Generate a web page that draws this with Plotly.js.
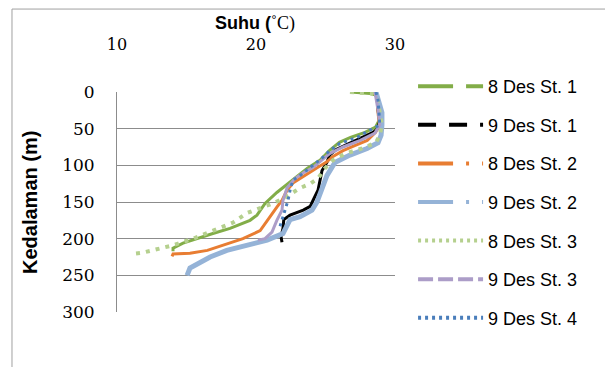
<!DOCTYPE html>
<html>
<head>
<meta charset="utf-8">
<script src="https://cdn.plot.ly/plotly-3.0.1.min.js"></script>
<style>html,body{margin:0;padding:0;background:#fff;}#chart{width:605px;height:367px;}</style>
</head>
<body>
<div id="chart"></div>
<script>
// Series names
const seriesNames = ["8 Des St. 1", "9 Des St. 1", "8 Des St. 2", "9 Des St. 2", "8 Des St. 3", "9 Des St. 3", "9 Des St. 4"];

// 8 Des St. 1
const temp8St1 = [26.8, 28.2, 28.7, 28.78, 28.85, 28.6, 27.84, 26.8, 26.0, 25.3, 24.6, 23.7, 22.45, 21.5, 20.65, 20.07, 19.57, 18.13, 16.9, 15.76, 14.75, 14.03, 14.03];
const depth8St1 = [0, 2, 4.5, 25, 38.6, 48, 55, 62, 68.6, 79.5, 93, 104, 123, 137, 152, 168, 175, 186, 193, 200, 206, 213, 217];

// 9 Des St. 1
const temp9St1 = [28.7, 28.78, 28.9, 28.78, 28.42, 27.5, 26.76, 25.8, 25.3, 25.1, 24.75, 24.6, 24.46, 24.1, 23.9, 23.4, 22.45, 22.0, 21.94, 21.8, 21.87];
const depth9St1 = [2, 25, 38.6, 49.5, 55, 63, 70, 78, 86, 96, 107, 120, 134, 148, 156, 161, 168, 174, 186, 197, 205];

// 8 Des St. 2
const temp8St2 = [28.35, 28.7, 28.8, 28.9, 28.6, 28.0, 27.1, 26.26, 25.54, 25.04, 24.6, 24.1, 23.67, 22.66, 22.23, 21.87, 21.5, 21.0, 20.3, 19.06, 17.6, 16.5, 15.25, 14.03, 13.96];
const depth8St2 = [0, 4.5, 32, 45, 55, 66, 73, 80, 88, 96, 101, 107, 111, 124, 134, 148, 157, 171, 189, 200, 209, 216, 220, 221, 224];

// 9 Des St. 2
const temp9St2 = [28.63, 28.78, 29.06, 29.06, 29.0, 28.78, 27.99, 26.76, 25.68, 25.1, 24.68, 24.39, 24.03, 23.17, 22.45, 22.16, 21.94, 20.8, 19.35, 17.9, 16.7, 15.76, 15.25, 15.04];
const depth9St2 = [0, 11, 28, 45, 59, 69, 77, 86, 96, 114, 134, 150, 161, 170, 174, 183, 193, 202, 209, 216, 225, 234, 240, 250];

// 8 Des St. 3
const temp8St3 = [26.76, 28.35, 28.7, 28.9, 29.06, 28.9, 28.63, 27.63, 26.4, 25.54, 24.96, 24.46, 23.9, 23.17, 22.09, 21.2, 20.29, 19.35, 18.35, 16.9, 15.47, 14.03, 13.1, 11.87, 10.94];
const depth8St3 = [0, 2, 7, 25, 45, 59, 69, 77, 84, 93, 104, 118, 125, 131, 144, 152, 159, 165, 178, 189, 200, 209, 213, 219, 221];

// 9 Des St. 3
const temp9St3 = [28.56, 28.78, 28.9, 28.56, 27.5, 26.26, 25.3, 24.75, 24.1, 23.5, 22.8, 22.23, 21.94, 21.87, 21.5, 21.15, 20.65, 20.14];
const depth9St3 = [0, 25, 45, 56, 66, 75, 84, 93, 103, 109, 118, 131, 148, 161, 175, 191, 200, 202];

// 9 Des St. 4
const temp9St4 = [28.63, 28.78, 28.85, 28.9, 27.99, 27.27, 26.04, 25.3, 24.75, 24.1, 23.17, 22.66, 22.45, 22.3, 22.09, 21.87, 21.73];
const depth9St4 = [0, 11, 29, 45, 54, 62, 70, 80, 90, 100, 114, 120, 134, 148, 161, 172, 183];

// Axis ticks
const xTicks = [10, 20, 30];
const yTicks = [0, 50, 100, 150, 200, 250, 300];

const temps = [temp8St1, temp9St1, temp8St2, temp9St2, temp8St3, temp9St3, temp9St4];
const depths = [depth8St1, depth9St1, depth8St2, depth9St2, depth8St3, depth9St3, depth9St4];

const colors = ["#82AD48", "#000000", "#E87D32", "#95B3D7", "#B5D08E", "#AC9DC8", "#4A7EBB"];
const plotDash = ["solid", "solid", "solid", "solid", "4px,6px", "solid", "3px,4px"];
const plotWidth = [3, 3, 3, 5, 4, 3, 3];
const legendDash = ["35px,13px", "18px,13px", "35px,13px,3px,13px", "35px,13px,3px,13px", "3px,4px", "15px,5px", "3px,4px"];

const traces = [];
for (let i = 0; i < seriesNames.length; i++) {
  traces.push({
    type: "scatter", mode: "lines",
    x: temps[i], y: depths[i],
    line: {color: colors[i], width: plotWidth[i], dash: plotDash[i]},
    showlegend: false, hoverinfo: "skip"
  });
}
for (let i = 0; i < seriesNames.length; i++) {
  traces.push({
    type: "scatter", mode: "lines",
    x: [null], y: [null],
    name: seriesNames[i],
    legendgroup: "g" + i,
    line: {color: colors[i], width: 4, dash: legendDash[i]},
    showlegend: true
  });
}

const layout = {
  width: 605, height: 367,
  margin: {l: 117, r: 210, t: 92, b: 55},
  paper_bgcolor: "#ffffff", plot_bgcolor: "#ffffff",
  showlegend: true,
  xaxis: {
    range: [10, 30], side: "top", tickvals: xTicks, ticktext: xTicks.map(String),
    showgrid: false, zeroline: false, showline: false, ticks: "",
    ticklabelstandoff: 38,
    tickfont: {family: "DejaVu Serif", size: 16, color: "#000"}
  },
  yaxis: {
    range: [300, 0], tickvals: yTicks, ticktext: yTicks.map(String),
    showgrid: true, gridcolor: "#8C8C8C", gridwidth: 1,
    zeroline: false, showline: true, linecolor: "#8C8C8C", linewidth: 1,
    ticks: "", ticklabelstandoff: 18,
    tickfont: {family: "DejaVu Serif", size: 17, color: "#000"}
  },
  legend: {
    x: 1.065, xanchor: "left", y: 1.109, yanchor: "top",
    font: {family: "Liberation Sans", size: 18, color: "#000"},
    bgcolor: "rgba(0,0,0,0)", tracegroupgap: 12.2, itemwidth: 65,
    maxheight: 400
  },
  annotations: [
    {xref: "paper", yref: "paper", x: 0.496, y: 1.312, xanchor: "center", yanchor: "middle",
     text: "<b>Suhu (</b><span style='font-family:Liberation Serif'>˚C)</span>", showarrow: false,
     font: {family: "Liberation Sans", size: 18, color: "#000"}},
    {xref: "paper", yref: "paper", x: -0.313, y: 0.5, xanchor: "center", yanchor: "middle",
     text: "<b>Kedalaman (m)</b>", textangle: -90, showarrow: false,
     font: {family: "Liberation Sans", size: 20, color: "#000"}}
  ],
  shapes: [
    {type: "line", xref: "paper", yref: "paper", x0: -0.3777, x1: -0.3777, y0: -0.3, y1: 1.377, line: {color: "#A0A0A0", width: 1}},
    {type: "line", xref: "paper", yref: "paper", x0: -0.3777, x1: 1.76, y0: 1.377, y1: 1.377, line: {color: "#A0A0A0", width: 1}}
  ]
};

Plotly.newPlot("chart", traces, layout, {displayModeBar: false, staticPlot: true});
</script>
</body>
</html>
